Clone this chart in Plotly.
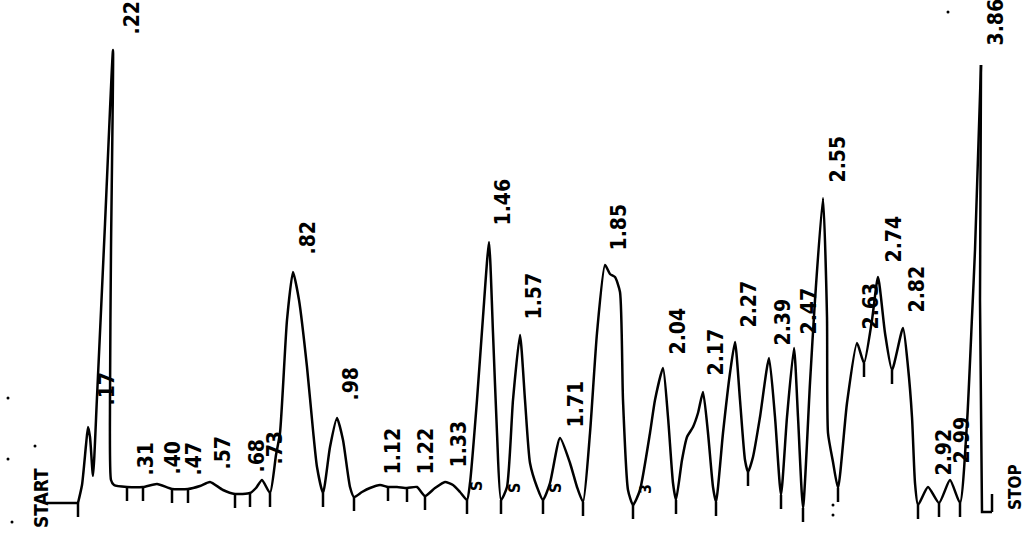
import numpy as np
import plotly.graph_objects as go

# Chromatogram trace: chart position (recorder travel) and detector signal
trace_pos = [47, 78, 82, 86, 88, 90, 93, 97, 105, 113, 111, 110, 111, 114, 127, 143, 157, 172, 188,
             200, 210, 223, 235, 250, 256, 262, 270, 276, 280, 287, 293, 299, 307, 313, 317, 323,
             330, 337, 343, 350, 354, 362, 370, 380, 388, 397, 407, 417, 425, 435, 445, 453, 460,
             467, 470, 477, 483, 489, 493, 497, 501, 507, 513, 520, 525, 530, 537, 543, 550, 560,
             570, 577, 583, 590, 597, 605, 610, 615, 620, 623, 628, 633, 640, 650, 655, 663, 668,
             673, 676, 682, 687, 693, 698, 703, 708, 713, 716, 723, 730, 735, 740, 745, 748, 753,
             760, 769, 775, 781, 787, 794, 798, 803, 810, 815, 823, 827, 828, 833, 838, 847, 857,
             864, 872, 878, 885, 892, 903, 908, 912, 915, 918, 928, 939, 950, 960, 967, 972, 975,
             981, 980, 982, 992]
trace_sig = [33, 33, 51, 91, 109, 99, 60, 139, 312, 486, 286, 138, 56, 51, 49, 49, 52, 47, 47,
             50, 54, 46, 42, 43, 48, 56, 43, 81, 103, 216, 264, 236, 169, 106, 69, 43,
             89, 118, 96, 49, 39, 44, 48, 51, 49, 49, 48, 49, 40, 48, 54, 51, 44,
             36, 53, 136, 219, 294, 203, 103, 36, 49, 136, 201, 136, 73, 49, 36, 53, 98,
             73, 49, 34, 103, 203, 271, 262, 259, 244, 136, 46, 31, 46, 103, 136, 168, 119,
             53, 36, 76, 99, 109, 123, 144, 103, 49, 34, 103, 163, 194, 136, 76, 64, 79,
             119, 178, 119, 41, 119, 188, 119, 28, 153, 236, 338, 219, 103, 74, 48, 133, 193,
             173, 216, 259, 203, 166, 208, 169, 119, 53, 31, 49, 33, 56, 33, 113, 219, 286,
             471, 236, 24, 24]

# Integration ticks (positions) hanging below the trace
tick_pos = [78, 127, 143, 172, 188, 235, 250, 270, 323, 354, 388, 407, 425, 467, 501, 543, 583,
            633, 676, 716, 748, 781, 803, 838, 864, 892, 918, 939, 960]
stop_tick_pos = [992]

# Retention-time labels: text, position, signal at label foot
peak_labels = [".22", ".17", ".31", ".40", ".47", ".57", ".68", ".73", ".82", ".98", "1.12",
               "1.22", "1.33", "1.46", "1.57", "1.71", "1.85", "2.04", "2.17", "2.27", "2.39",
               "2.47", "2.55", "2.63", "2.74", "2.82", "2.92", "2.99", "3.86"]
label_pos = [131, 106, 145, 172, 193, 222, 256, 274, 307, 350, 392, 425, 458, 502, 533, 575,
             618, 677, 715, 748, 782, 808, 837, 870, 893, 916, 943, 961, 995]
label_sig = [499, 128, 58, 59, 58, 64, 61, 69, 279, 133, 59, 59, 66, 308, 214, 106, 283, 179,
             158, 206, 188, 199, 351, 204, 271, 221, 58, 70, 488]

# Baseline markers printed by the integrator
marker_text = ["S", "S", "S", "3"]
marker_pos = [476, 514, 555, 645]
marker_sig = [50, 48, 48, 47]

# Stray specks on the scanned chart
speck_pos = [8, 8, 12, 35, 948, 833, 833]
speck_sig = [138, 77, 14, 90, 524, 31, 21]

TICK = 14
FONT = "DejaVu Sans Condensed, DejaVu Sans, sans-serif"
LINE = dict(color="black", width=2.5)

fig = go.Figure()
# start line (straight), peaks (smooth pen trace), final peak fall + stop line (straight)
n_end = len(trace_pos) - 3
fig.add_trace(go.Scatter(x=trace_pos[:2], y=trace_sig[:2], mode="lines", line=LINE,
                         hoverinfo="skip"))
fig.add_trace(go.Scatter(x=trace_pos[1:n_end], y=trace_sig[1:n_end], mode="lines",
                         line=dict(LINE, shape="spline", smoothing=0.55), hoverinfo="skip"))
fig.add_trace(go.Scatter(x=trace_pos[n_end - 1:], y=trace_sig[n_end - 1:], mode="lines",
                         line=LINE, hoverinfo="skip"))

tx, ty = [], []
for p in tick_pos:
    base = float(np.interp(p, trace_pos[1:], trace_sig[1:])) if p != 78 else trace_sig[1]
    tx += [p, p, None]
    ty += [base, base - TICK, None]
for p in stop_tick_pos:
    base = trace_sig[-1]
    tx += [p, p, None]
    ty += [base, base + 18, None]
fig.add_trace(go.Scatter(x=tx, y=ty, mode="lines", line=LINE, hoverinfo="skip"))

fig.add_trace(go.Scatter(x=speck_pos, y=speck_sig, mode="markers",
                         marker=dict(color="black", size=3), hoverinfo="skip"))

ann = []
for t, p, s in zip(peak_labels, label_pos, label_sig):
    ann.append(dict(x=p, y=s, xref="x", yref="y", text=t, showarrow=False, textangle=-90,
                    xanchor="center", yanchor="bottom",
                    font=dict(family=FONT, size=21, color="black", weight="bold")))
ann.append(dict(x=41, y=6, xref="x", yref="y", text="START", showarrow=False, textangle=-90,
                xanchor="center", yanchor="bottom",
                font=dict(family=FONT, size=19, color="black", weight="bold")))
ann.append(dict(x=1015, y=24, xref="x", yref="y", text="STOP", showarrow=False, textangle=-90,
                xanchor="center", yanchor="bottom",
                font=dict(family=FONT, size=17, color="black", weight="bold")))
for t, p, s in zip(marker_text, marker_pos, marker_sig):
    ann.append(dict(x=p, y=s, xref="x", yref="y", text=t, showarrow=False, textangle=-90,
                    xanchor="center", yanchor="middle",
                    font=dict(family=FONT, size=16, color="black", weight="bold")))

fig.update_layout(width=1035, height=536, margin=dict(l=0, r=0, t=0, b=0),
                  paper_bgcolor="white", plot_bgcolor="white", showlegend=False,
                  annotations=ann)
fig.update_xaxes(range=[0, 1035], visible=False)
fig.update_yaxes(range=[0, 536], visible=False)
fig.write_html("out.html", config={"displayModeBar": False},
               post_script="document.body.style.margin='0';document.body.style.overflow='hidden';")
